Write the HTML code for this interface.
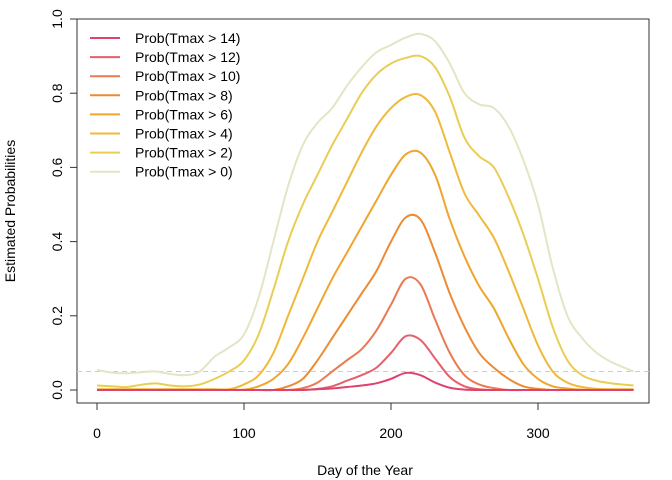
<!DOCTYPE html>
<html><head><meta charset="utf-8"><style>
body{margin:0;background:#fff;}
svg{display:block;font-family:"Liberation Sans",sans-serif;}
</style></head><body>
<svg id="chart" width="672" height="480">
<rect x="77" y="19" width="572" height="384" fill="none" stroke="#333" stroke-width="1"/>
<g id="axes"></g>
<g id="lines"></g>
<g id="legend"></g>
<text x="365" y="475" text-anchor="middle" font-size="14">Day of the Year</text>
<text transform="translate(15,211) rotate(-90)" text-anchor="middle" font-size="14">Estimated Probabilities</text>
</svg>
<script>
const days=[0,10,20,30,40,50,60,70,80,90,100,110,120,130,140,150,160,170,180,190,200,210,220,230,240,250,260,270,280,290,300,310,320,330,340,350,360,365];
const p0=[.054,.047,.045,.048,.05,.043,.04,.05,.09,.115,.15,.25,.40,.55,.66,.72,.76,.82,.87,.91,.93,.95,.96,.94,.88,.80,.77,.76,.71,.62,.50,.33,.20,.14,.10,.075,.058,.05];
const p2=[.012,.01,.008,.014,.018,.012,.01,.015,.03,.05,.08,.15,.27,.40,.50,.58,.66,.73,.80,.85,.88,.895,.90,.87,.79,.68,.63,.60,.52,.42,.30,.17,.08,.04,.025,.018,.014,.012];
const p4=[.002,.002,.002,.002,.002,.002,.002,.002,.002,.002,.015,.04,.10,.20,.30,.40,.48,.56,.64,.71,.76,.79,.795,.75,.64,.53,.47,.41,.32,.22,.12,.05,.02,.008,.003,.002,.002,.002];
const p6=[.001,.001,.001,.001,.001,.001,.001,.001,.001,.001,.001,.01,.03,.07,.14,.22,.30,.37,.44,.51,.58,.635,.64,.58,.46,.36,.28,.22,.14,.07,.03,.01,.004,.001,.001,.001,.001,.001];
const p8=[0,0,0,0,0,0,0,0,0,0,0,0,0,.01,.03,.08,.14,.20,.26,.32,.40,.465,.46,.37,.26,.17,.10,.06,.03,.01,.003,0,0,0,0,0,0,0];
const p10=[0,0,0,0,0,0,0,0,0,0,0,0,0,0,.005,.02,.05,.08,.11,.16,.23,.30,.285,.19,.10,.04,.015,.005,0,0,0,0,0,0,0,0,0,0];
const p12=[0,0,0,0,0,0,0,0,0,0,0,0,0,0,0,.003,.01,.025,.04,.06,.10,.145,.135,.085,.035,.01,.002,0,0,0,0,0,0,0,0,0,0,0];
const p14=[0,0,0,0,0,0,0,0,0,0,0,0,0,0,0,.002,.004,.008,.012,.018,.03,.046,.04,.02,.006,.001,0,0,0,0,0,0,0,0,0,0,0,0];
const seriesLabels=["Prob(Tmax > 14)","Prob(Tmax > 12)","Prob(Tmax > 10)","Prob(Tmax > 8)","Prob(Tmax > 6)","Prob(Tmax > 4)","Prob(Tmax > 2)","Prob(Tmax > 0)"];
const seriesValues=[p14,p12,p10,p8,p6,p4,p2,p0];
const colors=["#E0426E","#E4606A","#EA7A52","#EC8B34","#EFA52E","#F0B93A","#EACD55","#E2E6C4"];
const xTicks=[0,100,200,300];
const yTicks=[0,0.2,0.4,0.6,0.8,1.0];
const yTickLabels=["0.0","0.2","0.4","0.6","0.8","1.0"];
const refLine=0.05;

const NS="http://www.w3.org/2000/svg";
const X=d=>97+d*1.47;
const Y=v=>390-v*371;
function mk(t,a,p){const e=document.createElementNS(NS,t);for(const k in a)e.setAttribute(k,a[k]);p.appendChild(e);return e;}
const axes=document.getElementById('axes');
let l=mk('line',{x1:X(xTicks[0]),x2:X(xTicks[xTicks.length-1]),y1:403,y2:403,stroke:'#333'},axes);


xTicks.forEach(t=>{
  const tk=mk('line',{x1:X(t),x2:X(t),y1:403,y2:410,stroke:'#333'},axes);
  
  
  const tx=mk('text',{x:X(t),y:438,'text-anchor':'middle','font-size':14},axes);tx.textContent=t;
  
  
});
l=mk('line',{x1:77,x2:77,y1:Y(0),y2:Y(1),stroke:'#333'},axes);


yTicks.forEach((t,i)=>{
  const tk=mk('line',{x1:70,x2:77,y1:Y(t),y2:Y(t),stroke:'#333'},axes);
  
  
  const tx=mk('text',{transform:`translate(${62},${Y(t)}) rotate(-90)`,'text-anchor':'middle','font-size':14},axes);tx.textContent=yTickLabels[i];
  
  
});
const ref=mk('line',{x1:77,x2:649,y1:Y(refLine),y2:Y(refLine),stroke:'#ccc','stroke-dasharray':'5,4'},axes);



function pathFor(vals){
  const pts=days.map((d,i)=>[X(d),Y(vals[i])]);
  let s=`M${pts[0][0]},${pts[0][1]}`;
  for(let i=0;i<pts.length-1;i++){
    const p0=pts[Math.max(i-1,0)],p1=pts[i],p2=pts[i+1],p3=pts[Math.min(i+2,pts.length-1)];
    const c1=[p1[0]+(p2[0]-p0[0])/6,p1[1]+(p2[1]-p0[1])/6];
    const c2=[p2[0]-(p3[0]-p1[0])/6,p2[1]-(p3[1]-p1[1])/6];
    s+=`C${c1[0]},${c1[1]} ${c2[0]},${c2[1]} ${p2[0]},${p2[1]}`;
  }
  return s;
}
const lines=document.getElementById('lines');
for(let i=seriesValues.length-1;i>=0;i--){
  const p=mk('path',{d:pathFor(seriesValues[i]),fill:'none',stroke:colors[i],'stroke-width':2},lines);
  
  
}
const lg=document.getElementById('legend');
seriesLabels.forEach((s,i)=>{
  const y=38+i*19.1;
  const ln=mk('line',{x1:90,x2:120,y1:y,y2:y,stroke:colors[i],'stroke-width':2},lg);
  
  
  const t=mk('text',{x:135,y:y+5,'font-size':14},lg);t.textContent=s;
  
  
});
</script>
</body></html>
